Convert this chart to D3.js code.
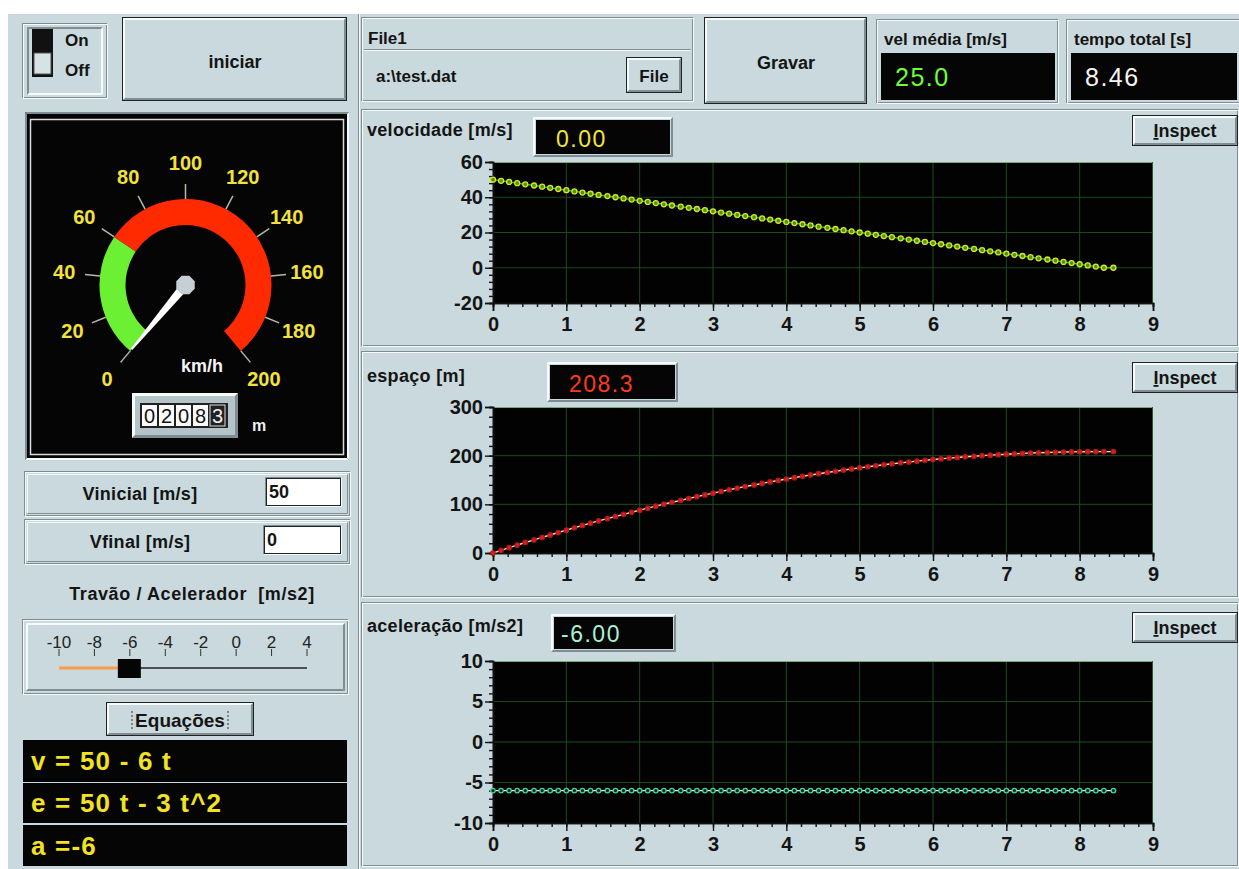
<!DOCTYPE html>
<html><head><meta charset="utf-8">
<script src="https://cdn.jsdelivr.net/npm/d3@7"></script>
<style>body{margin:0;background:#fff;} svg{display:block;font-family:"Liberation Sans",Arial,sans-serif;} text{white-space:pre;}</style>
</head><body><svg id="c" width="1239" height="869"></svg>
<script>
// ---------- data ----------
const time = [0,0.11,0.22,0.33,0.44,0.56,0.67,0.78,0.89,
1,1.11,1.22,1.33,1.44,1.56,1.67,1.78,1.89,
2,2.11,2.22,2.33,2.44,2.56,2.67,2.78,2.89,
3,3.11,3.22,3.33,3.44,3.56,3.67,3.78,3.89,
4,4.11,4.22,4.33,4.44,4.56,4.67,4.78,4.89,
5,5.11,5.22,5.33,5.44,5.56,5.67,5.78,5.89,
6,6.11,6.22,6.33,6.44,6.56,6.67,6.78,6.89,
7,7.11,7.22,7.33,7.44,7.56,7.67,7.78,7.89,
8,8.11,8.22,8.33,8.46];
const velocidade = [50,49.33,48.67,48,47.33,46.67,46,45.33,44.67,
44,43.33,42.67,42,41.33,40.67,40,39.33,38.67,
38,37.33,36.67,36,35.33,34.67,34,33.33,32.67,
32,31.33,30.67,30,29.33,28.67,28,27.33,26.67,
26,25.33,24.67,24,23.33,22.67,22,21.33,20.67,
20,19.33,18.67,18,17.33,16.67,16,15.33,14.67,
14,13.33,12.67,12,11.33,10.67,10,9.33,8.67,
8,7.33,6.67,6,5.33,4.67,4,3.33,2.67,
2,1.33,0.67,0,0];
const espaco = [0,5.52,10.96,16.33,21.63,26.85,32,37.07,42.07,
47,51.85,56.63,61.33,65.96,70.52,75,79.41,83.74,
88,92.19,96.3,100.33,104.3,108.19,112,115.74,119.41,
123,126.52,129.96,133.33,136.63,139.85,143,146.07,149.07,
152,154.85,157.63,160.33,162.96,165.52,168,170.41,172.74,
175,177.19,179.3,181.33,183.3,185.19,187,188.74,190.41,
192,193.52,194.96,196.33,197.63,198.85,200,201.07,202.07,
203,203.85,204.63,205.33,205.96,206.52,207,207.41,207.74,
208,208.19,208.3,208.33,208.33];
const aceleracao = [-6,-6,-6,-6,-6,-6,-6,-6,-6,
-6,-6,-6,-6,-6,-6,-6,-6,-6,
-6,-6,-6,-6,-6,-6,-6,-6,-6,
-6,-6,-6,-6,-6,-6,-6,-6,-6,
-6,-6,-6,-6,-6,-6,-6,-6,-6,
-6,-6,-6,-6,-6,-6,-6,-6,-6,
-6,-6,-6,-6,-6,-6,-6,-6,-6,
-6,-6,-6,-6,-6,-6,-6,-6,-6,
-6,-6,-6,-6,-6];
const xTicks = [0,1,2,3,4,5,6,7,8,9];
const velTicks = [-20,0,20,40,60];
const espTicks = [0,100,200,300];
const accTicks = [-10,-5,0,5,10];
const gaugeTicks = [0,20,40,60,80,100,120,140,160,180,200];
const gaugeZones = [[0,60,'#6cf034'],[60,200,'#ff2a00']];
const sliderTicks = [-10,-8,-6,-4,-2,0,2,4];
const equations = ["v = 50 - 6 t","e = 50 t - 3 t^2","a =-6"];
const odometer = ["0","2","0","8","3"];
const vInicial = "50", vFinal = "0", sliderValue = -6;
const velMedia = "25.0", tempoTotal = "8.46";
const velAtual = "0.00", espAtual = "208.3", accAtual = "-6.00";
const gaugeValue = 0;

// ---------- drawing ----------
const svg = d3.select('#c');
const BG = '#c9d9dd', LIGHT = '#f6fbfb', DARK = '#7d8d91';
svg.append('rect').attr('width',1239).attr('height',869).attr('fill','#fff');
svg.append('rect').attr('x',8).attr('y',14).attr('width',1231).attr('height',855).attr('fill',BG);

function bevel(x,y,w,h,o={}){
  const raised = o.raised!==false, n = o.n||2;
  const g = svg.append('g');
  if(o.fill) g.append('rect').attr('x',x).attr('y',y).attr('width',w).attr('height',h).attr('fill',o.fill);
  const tl = raised?LIGHT:DARK, br = raised?DARK:LIGHT;
  for(let i=0;i<n;i++){
    g.append('path').attr('d',`M${x+i+0.5},${y+h-i-0.5}V${y+i+0.5}H${x+w-i-0.5}`).attr('stroke',tl).attr('fill','none');
    g.append('path').attr('d',`M${x+i+0.5},${y+h-i-0.5}H${x+w-i-0.5}V${y+i+0.5}`).attr('stroke',br).attr('fill','none');
  }
  return g;
}
function etched(x,y,w,h){
  svg.append('rect').attr('x',x+0.5).attr('y',y+0.5).attr('width',w-2).attr('height',h-2).attr('fill','none').attr('stroke',DARK);
  svg.append('rect').attr('x',x+1.5).attr('y',y+1.5).attr('width',w-2).attr('height',h-2).attr('fill','none').attr('stroke',LIGHT);
}
function button(x,y,w,h){
  svg.append('rect').attr('x',x).attr('y',y).attr('width',w).attr('height',h).attr('fill','#222');
  svg.append('rect').attr('x',x+1).attr('y',y+1).attr('width',w-2).attr('height',h-2).attr('fill',BG);
  bevel(x+1,y+1,w-2,h-2,{n:2});
}
function txt(x,y,s,o={}){
  return svg.append('text').attr('x',x).attr('y',y).text(s)
    .attr('font-size',o.size||15).attr('font-weight',o.weight||'bold')
    .attr('fill',o.fill||'#141414').attr('text-anchor',o.anchor||'start')
    .attr('letter-spacing',o.ls||0);
}

// left column separator
svg.append('line').attr('x1',358.5).attr('x2',358.5).attr('y1',14).attr('y2',869).attr('stroke',DARK);
svg.append('line').attr('x1',359.5).attr('x2',359.5).attr('y1',14).attr('y2',869).attr('stroke',LIGHT);

// On / Off toggle
etched(22,23,86,76);
bevel(27,27,76,68,{raised:false});
svg.append('rect').attr('x',32).attr('y',29).attr('width',21).attr('height',48).attr('fill','#111');
svg.append('rect').attr('x',34).attr('y',53).attr('width',17).attr('height',21).attr('fill','#d6e2e4').attr('stroke','#555');
txt(65,46,'On',{size:17});
txt(65,76,'Off',{size:17});

// iniciar button
button(122,17,225,84);
txt(235,68,'iniciar',{size:18,anchor:'middle'});

// Gauge panel
svg.append('rect').attr('x',25).attr('y',112).attr('width',324).attr('height',348).attr('fill','#050505');
bevel(25,112,324,348,{raised:false});
svg.append('rect').attr('x',30.5).attr('y',119.5).attr('width',313).attr('height',335).attr('fill','none').attr('stroke','#d8dcdc').attr('stroke-width',1.5);

const gc = {x:185.5,y:285};
const ang = d3.scaleLinear().domain([0,200]).range([-140,140]);
const rad = d => ang(d)*Math.PI/180;
const gg = svg.append('g').attr('transform',`translate(${gc.x},${gc.y})`);
const arc = d3.arc().innerRadius(60).outerRadius(86);
gaugeZones.forEach(z=>gg.append('path').attr('d',arc({startAngle:rad(z[0]),endAngle:rad(z[1])})).attr('fill',z[2]));
gaugeTicks.forEach(t=>{
  const a = rad(t);
  gg.append('line').attr('x1',86*Math.sin(a)).attr('y1',-86*Math.cos(a))
    .attr('x2',101*Math.sin(a)).attr('y2',-101*Math.cos(a)).attr('stroke','#b8b8a8').attr('stroke-width',1.5);
  gg.append('text').attr('x',122*Math.sin(a)).attr('y',-122*Math.cos(a)).attr('dy','0.36em')
    .attr('text-anchor','middle').attr('font-size',20).attr('font-weight','bold').attr('fill','#f2e23a').text(t);
});
gg.append('g').attr('transform',`rotate(${ang(gaugeValue)})`)
  .append('path').attr('d','M-4.5,0L-1,-84L1,-84L4.5,0Z').attr('fill','#fff');
const oct = d3.range(8).map(i=>{const a=(i+0.5)*Math.PI/4;return [10*Math.cos(a),10*Math.sin(a)];});
gg.append('path').attr('d','M'+oct.join('L')+'Z').attr('fill','#c6cfd3');
txt(181,372,'km/h',{size:18,fill:'#f4f4f4'});

// odometer
svg.append('rect').attr('x',132).attr('y',393).attr('width',106).attr('height',45).attr('fill','#b4c4c8');
bevel(132,393,106,45,{n:3});
svg.append('rect').attr('x',140).attr('y',403).attr('width',88).attr('height',25).attr('fill','#202020');
odometer.forEach((d,i)=>{
  const last = i===odometer.length-1;
  svg.append('rect').attr('x',142+i*17).attr('y',405).attr('width',15).attr('height',21).attr('fill',last?'#222':'#fafafa').attr('stroke',last?'#ddd':'none');
  txt(149.5+i*17,423,d,{size:20,weight:'normal',anchor:'middle',fill:last?'#eee':'#111'});
});
txt(252,431,'m',{size:16,fill:'#f0f0f0'});

// Vinicial / Vfinal
[[471,'Vinicial [m/s]',vInicial,265],[519,'Vfinal [m/s]',vFinal,263]].forEach(([y,l,v,ix])=>{
  etched(24,y,327,46);
  bevel(27,y+3,321,40,{n:1});
  txt(140,y+29,l,{size:18,anchor:'middle',ls:0.3});
  svg.append('rect').attr('x',ix).attr('y',y+6).attr('width',342-ix).attr('height',30).attr('fill','#fff');
  bevel(ix,y+6,342-ix,30,{raised:false});
  svg.append('rect').attr('x',ix+1.5).attr('y',y+7.5).attr('width',342-ix-3).attr('height',27).attr('fill','none').attr('stroke','#222');
  txt(ix+4,y+27,v,{size:18});
});

txt(192,600,'Travão / Acelerador  [m/s2]',{size:18,anchor:'middle',ls:0.6});

// slider
etched(22,619,327,76);
bevel(26,623,319,68,{n:2});
const sx = d3.scaleLinear().domain([-10,4]).range([59,307]);
sliderTicks.forEach(t=>{
  txt(sx(t),648,String(t),{size:17,weight:'normal',anchor:'middle',fill:'#222'});
  svg.append('line').attr('x1',sx(t)).attr('x2',sx(t)).attr('y1',649).attr('y2',656).attr('stroke','#333');
});
svg.append('line').attr('x1',sx(-10)).attr('x2',sx(sliderValue)).attr('y1',668).attr('y2',668).attr('stroke','#ff9a4a').attr('stroke-width',3);
svg.append('line').attr('x1',sx(sliderValue)).attr('x2',sx(4)).attr('y1',668).attr('y2',668).attr('stroke','#222').attr('stroke-width',1.5);
svg.append('rect').attr('x',sx(sliderValue)-12).attr('y',659).attr('width',23).attr('height',19).attr('fill','#050505');

// Equações button
button(106,702,148,34);
txt(180,727,'Equações',{size:19,anchor:'middle'});
[132,228].forEach(x=>svg.append('line').attr('x1',x).attr('x2',x).attr('y1',711).attr('y2',729).attr('stroke','#333').attr('stroke-dasharray','2,2'));

// equations
[[740,42,770],[783,40,812],[825,41,855]].forEach(([y,h,b],i)=>{
  svg.append('rect').attr('x',23).attr('y',y).attr('width',324).attr('height',h).attr('fill','#050505');
  txt(31,b,equations[i],{size:26,fill:'#f2e222',ls:1.2});
});

// ---------- top right ----------
etched(361,17,333,85);
svg.append('line').attr('x1',364).attr('x2',691).attr('y1',49.5).attr('y2',49.5).attr('stroke',DARK);
svg.append('line').attr('x1',364).attr('x2',691).attr('y1',50.5).attr('y2',50.5).attr('stroke',LIGHT);
txt(368,44,'File1',{size:17});
txt(376,82,'a:\\test.dat',{size:17});
button(626,57,56,36);
txt(654,82,'File',{size:17,anchor:'middle'});
button(704,17,163,87);
txt(786,69,'Gravar',{size:18,anchor:'middle'});

[[876,181,'vel média [m/s]',velMedia,'#6cff3a'],[1066,173,'tempo total [s]',tempoTotal,'#f4f4f4']].forEach(([x,w,l,v,c])=>{
  etched(x,19,w+2,85);
  txt(x+8,45,l,{size:17});
  svg.append('rect').attr('x',x+5).attr('y',53).attr('width',w-7).attr('height',47).attr('fill','#050505');
  txt(x+19,86,v,{size:25,weight:'normal',fill:c,ls:1.5});
});

// ---------- charts ----------
const x = d3.scaleLinear().domain([0,9]).range([493,1153]);
const charts = [
 {name:'velocidade [m/s]', y0:162, y1:303, domain:[-20,60], ticks:velTicks, minor:4, data:velocidade,
  line:'#3ac820', mStroke:'#e2e224', mFill:'#3c9a22', r:2.5, panel:[361,109,878,238], titleY:136,
  box:[533,117,140,40], val:velAtual, valX:556, valColor:'#f4e63e', inspectY:115},
 {name:'espaço [m]', y0:407, y1:553, domain:[0,300], ticks:espTicks, minor:20, data:espaco,
  line:'#efe6b0', mStroke:'#b81616', mFill:'#d42222', r:2.2, panel:[361,351,878,247], titleY:382,
  box:[547,362,131,40], val:espAtual, valX:569, valColor:'#ff3a1c', inspectY:362},
 {name:'aceleração [m/s2]', y0:661, y1:823, domain:[-10,10], ticks:accTicks, minor:1, data:aceleracao,
  line:'#e6f4ee', mStroke:'#46d69c', mFill:'#0c2c1e', r:2.3, panel:[361,602,878,265], titleY:632,
  box:[551,614,125,38], val:accAtual, valX:561, valColor:'#a8f2d6', inspectY:612}
];
charts.forEach(c=>{
  const [px,py,pw,ph] = c.panel;
  etched(px,py,pw,ph);
  txt(367,c.titleY,c.name,{size:18,ls:0.3});
  const [bx,by,bw,bh] = c.box;
  svg.append('rect').attr('x',bx).attr('y',by).attr('width',bw).attr('height',bh).attr('fill',BG);
  bevel(bx,by,bw,bh,{n:2});
  svg.append('rect').attr('x',bx+3).attr('y',by+3).attr('width',bw-6).attr('height',bh-6).attr('fill','#050505');
  txt(c.valX,by+bh-10,c.val,{size:23,weight:'normal',fill:c.valColor,ls:1.5});
  // Inspect
  button(1132,c.inspectY,106,31);
  const it = svg.append('text').attr('x',1185).attr('y',c.inspectY+22).attr('text-anchor','middle')
    .attr('font-size',18).attr('font-weight','bold').attr('fill','#141414');
  it.append('tspan').attr('text-decoration','underline').text('I');
  it.append('tspan').text('nspect');

  const y = d3.scaleLinear().domain(c.domain).range([c.y1,c.y0]);
  const g = svg.append('g');
  g.append('rect').attr('x',x(0)).attr('y',c.y0).attr('width',x(9)-x(0)).attr('height',c.y1-c.y0).attr('fill','#020202');
  g.selectAll('.gx').data(xTicks.slice(1,-1)).join('line').attr('x1',d=>x(d)).attr('x2',d=>x(d))
    .attr('y1',c.y0).attr('y2',c.y1).attr('stroke','#1d4a1d');
  g.selectAll('.gy').data(c.ticks.slice(1,-1)).join('line').attr('x1',x(0)).attr('x2',x(9))
    .attr('y1',d=>y(d)).attr('y2',d=>y(d)).attr('stroke','#1d4a1d');
  g.append('line').attr('x1',x(0)).attr('x2',x(9)).attr('y1',c.y0+0.5).attr('y2',c.y0+0.5).attr('stroke','#78a878');
  g.append('line').attr('x1',x(9)-0.5).attr('x2',x(9)-0.5).attr('y1',c.y0).attr('y2',c.y1).attr('stroke','#2a5a2a');

  const minorX = d3.range(0,9.001,0.2);
  const minorY = d3.range(c.domain[0],c.domain[1]+1e-6,c.minor);
  const ax = g.append('g').attr('transform',`translate(0,${c.y1})`);
  ax.call(d3.axisBottom(x).tickValues(minorX).tickSize(4).tickFormat(''));
  const axM = g.append('g').attr('transform',`translate(0,${c.y1})`)
    .call(d3.axisBottom(x).tickValues(xTicks).tickSize(8).tickPadding(6).tickFormat(d=>String(d)));
  const ay = g.append('g').attr('transform',`translate(${x(0)},0)`);
  ay.call(d3.axisLeft(y).tickValues(minorY).tickSize(4).tickFormat(''));
  const ayM = g.append('g').attr('transform',`translate(${x(0)},0)`)
    .call(d3.axisLeft(y).tickValues(c.ticks).tickSize(8).tickPadding(2).tickFormat(d=>String(d)));
  [ax,axM,ay,ayM].forEach(a=>{
    a.selectAll('path.domain').attr('stroke','#111').attr('stroke-width',1.6);
    a.selectAll('.tick line').attr('stroke','#111').attr('stroke-width',1.4);
    a.selectAll('.tick text').attr('fill','#141414').attr('font-size',20).attr('font-weight','bold')
      .attr('font-family','"Liberation Sans",Arial,sans-serif');
  });
  const pts = time.map((t,i)=>[t,c.data[i]]);
  g.append('path').attr('d',d3.line().x(d=>x(d[0])).y(d=>y(d[1]))(pts))
    .attr('fill','none').attr('stroke',c.line).attr('stroke-width',1.4);
  g.selectAll('.pt').data(pts).join('circle').attr('cx',d=>x(d[0])).attr('cy',d=>y(d[1]))
    .attr('r',c.r).attr('fill',c.mFill).attr('stroke',c.mStroke).attr('stroke-width',1.3);
});
</script></body></html>
